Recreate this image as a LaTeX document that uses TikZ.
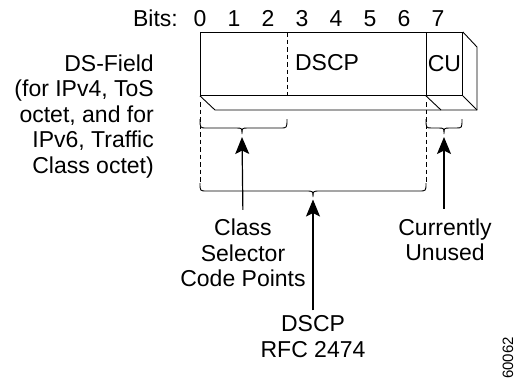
\documentclass[tikz,border=0pt]{standalone}
\usepackage{fontspec}
\setmainfont{Liberation Sans}
\usetikzlibrary{arrows.meta}
\begin{document}
\begin{tikzpicture}[x=1pt,y=-1pt,
  txt/.style={font=\fontsize{23}{25.5}\selectfont, inner sep=0pt},
  bitlbl/.style={font=\fontsize{23}{25.5}\selectfont, inner sep=0pt, anchor=base},
  ln/.style={line width=0.9pt},
  dsh/.style={line width=0.8pt, dash pattern=on 4.5pt off 3pt},
  arr/.style={line width=1.2pt, -{Stealth[length=17pt,width=14pt,inset=3.5pt]}},
  brc/.style={line width=0.9pt}
]
\useasboundingbox (0,0) rectangle (516,381);

% bit labels
\node[bitlbl, anchor=base east] (bits) at (178,26.5) {Bits:};
\foreach \i/\xx in {0/200,1/234,2/268,3/302,4/336,5/370,6/404,7/438}{
  \node[bitlbl] (b\i) at (\xx,26.5) {\i};
}

% main box
\node[ln, draw, minimum width=262pt, minimum height=63pt, anchor=north west, inner sep=0pt] (box) at (200,32) {};
\node[ln, draw, minimum width=36pt, minimum height=63pt, anchor=north east, inner sep=0pt, font=\fontsize{23}{25.5}\selectfont] (cu) at (box.north east) {CU};
\node[txt] (dscp) at (327,63) {DSCP};
\draw[dsh] (287,32) -- (287,95);

% 3D faces
\draw[ln] (box.south west) -- (215,110) -- (477,110) -- (477,47) -- (box.north east);
\draw[ln] (box.south east) -- (477,110);
\draw[ln] (cu.south west) -- (441,110);

% dashed extension lines
\draw[dsh] (200,102) -- (200,184);
\draw[dsh] (426,102) -- (426,184);

% small brace (class selector)
\coordinate (csTip) at (242,134);
\draw[brc] (200,119) .. controls (200,128) .. (207,128) -- (236,128)
  .. controls (242,128) .. (csTip) .. controls (242,128) .. (248,128) -- (280,128)
  .. controls (287,128) .. (287,119);
% CU brace
\coordinate (cuTip) at (444,134);
\draw[brc] (426,119) .. controls (426,128) .. (432,128) -- (438,128)
  .. controls (444,128) .. (cuTip) .. controls (444,128) .. (450,128) -- (456,128)
  .. controls (462,128) .. (462,119);
% big brace
\coordinate (dsTip) at (313,197);
\draw[brc] (200,183) .. controls (200,191) .. (207,191) -- (306,191)
  .. controls (313,191) .. (dsTip) .. controls (313,191) .. (320,191) -- (419,191)
  .. controls (426,191) .. (426,183);

% left description
\node[txt, align=right, anchor=east] (dsf) at (154,116.5) {DS-Field\\(for IPv4, ToS\\octet, and for\\IPv6, Traffic\\Class octet)};

% labels
\node[txt, align=center] (cs) at (243,253) {Class\\Selector\\Code Points};
\node[txt, align=center] (rfc) at (313,336.5) {DSCP\\RFC 2474};
\node[txt, align=center] (unused) at (445,240) {Currently\\Unused};

% arrows
\draw[arr, shorten <=9pt] (cs.north) -- ([yshift=-3pt]csTip);
\draw[arr, shorten <=5pt] (rfc.north) -- ([yshift=-2.5pt]dsTip);
\draw[arr, shorten <=10pt] (unused.north -| cuTip) -- ([yshift=-3pt]cuTip);

% figure number
\node[inner sep=0pt, rotate=90, font=\fontsize{15}{17}\selectfont] (fig) at (508,358) {60062};
\end{tikzpicture}
\end{document}
